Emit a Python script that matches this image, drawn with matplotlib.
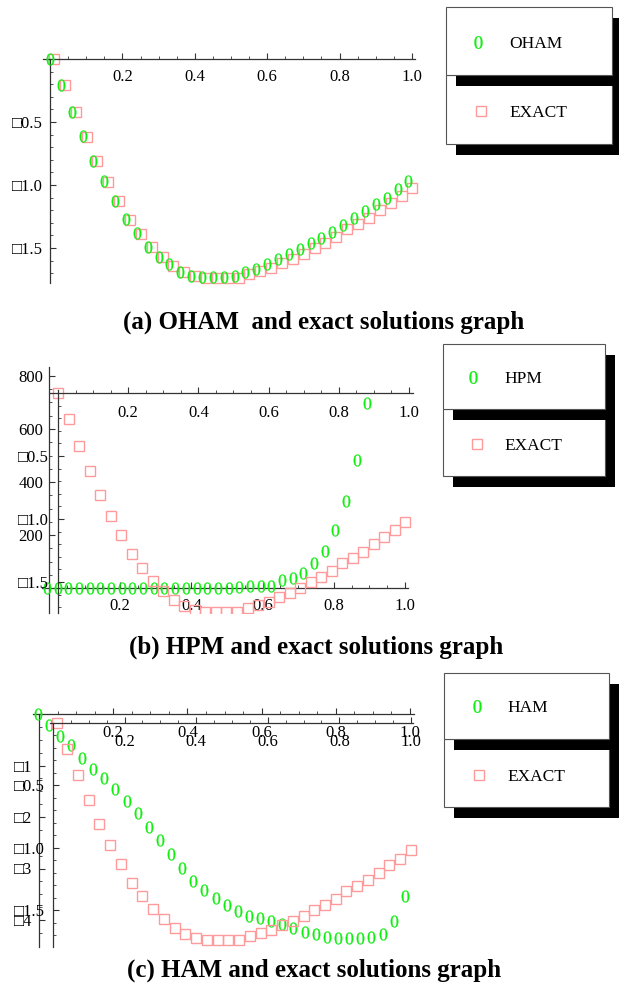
import numpy as np
import matplotlib
matplotlib.use('Agg')
import matplotlib.pyplot as plt
from matplotlib.patches import Rectangle
from matplotlib.transforms import ScaledTranslation

plt.rcParams['font.family'] = ['Liberation Serif', 'DejaVu Serif']
plt.rcParams['mathtext.fontset'] = 'custom'
plt.rcParams['mathtext.rm'] = 'Liberation Serif'
plt.rcParams['mathtext.it'] = 'Liberation Serif'

# ---------------- data ----------------
x_nodes = [0.00, 0.03, 0.06, 0.09, 0.12, 0.15, 0.18, 0.21, 0.24, 0.27,
           0.30, 0.33, 0.36, 0.39, 0.42, 0.45, 0.48, 0.51, 0.54, 0.57,
           0.60, 0.63, 0.66, 0.69, 0.72, 0.75, 0.78, 0.81, 0.84, 0.87,
           0.90, 0.93, 0.96, 0.99]
exact = [0.00, -0.21, -0.42, -0.62, -0.81, -0.98, -1.13, -1.28, -1.39, -1.49,
         -1.57, -1.64, -1.69, -1.72, -1.74, -1.74, -1.74, -1.74, -1.71, -1.68,
         -1.66, -1.62, -1.59, -1.55, -1.50, -1.46, -1.41, -1.35, -1.31, -1.26,
         -1.20, -1.14, -1.09, -1.02]
oham = [0.00, -0.21, -0.42, -0.61, -0.81, -0.97, -1.13, -1.27, -1.38, -1.49,
        -1.57, -1.63, -1.69, -1.72, -1.73, -1.73, -1.73, -1.72, -1.69, -1.67,
        -1.63, -1.59, -1.55, -1.51, -1.46, -1.42, -1.37, -1.32, -1.26, -1.21,
        -1.15, -1.10, -1.03, -0.97]
x_hpm = [0.00, 0.03, 0.06, 0.09, 0.12, 0.15, 0.18, 0.21, 0.24, 0.27,
         0.30, 0.33, 0.36, 0.39, 0.42, 0.45, 0.48, 0.51, 0.54, 0.57,
         0.60, 0.63, 0.66, 0.69, 0.72, 0.75, 0.78, 0.81, 0.84, 0.87, 0.90]
hpm = [0, 0, 0, 0, 0, 0, 0, 0, 0, 0,
       0, 0, 0, 0, 0, 0, 0, 0, 4, 6,
       6, 9, 29, 38, 57, 94, 138, 218, 330, 482, 698]
ham = [0.00, -0.21, -0.42, -0.61, -0.85, -1.06, -1.25, -1.46, -1.68, -1.92,
       -2.19, -2.45, -2.72, -2.99, -3.24, -3.41, -3.57, -3.71, -3.82, -3.92,
       -3.97, -4.02, -4.08, -4.15, -4.23, -4.28, -4.33, -4.35, -4.35, -4.35,
       -4.33, -4.28, -4.02, -3.54]

x_ticks = [0.2, 0.4, 0.6, 0.8, 1.0]
x_tick_labels = ['0.2', '0.4', '0.6', '0.8', '1.0']
exact_yticks = [-0.5, -1.0, -1.5]
exact_ylabels = ['\u25a10.5', '\u25a11.0', '\u25a11.5']
hpm_yticks = [200, 400, 600, 800]
hpm_ylabels = ['200', '400', '600', '800']
ham_yticks = [-1, -2, -3, -4]
ham_ylabels = ['\u25a11', '\u25a12', '\u25a13', '\u25a14']
method_names = ['OHAM', 'HPM', 'HAM']
exact_name = 'EXACT'
captions = ['(a) OHAM  and exact solutions graph',
            '(b) HPM and exact solutions graph',
            '(c) HAM and exact solutions graph']

# ---------------- style ----------------
W, H = 619, 991
GREEN = '#10ee10'
PINK = '#ff9a9a'
AXC = '#333333'
BOXC = '#555555'
ZERO_MS = 8.6
SQ_MS = 7.2

fig = plt.figure(figsize=(W / 100, H / 100), dpi=100)


def px_axes(x0, y0, x1, y1, xorig, xscale, yorig, yscale):
    ax = fig.add_axes([x0 / W, 1 - y1 / H, (x1 - x0) / W, (y1 - y0) / H])
    ax.set_xlim((x0 - xorig) / xscale, (x1 - xorig) / xscale)
    ax.set_ylim((yorig - y1) / yscale, (yorig - y0) / yscale)
    ax.patch.set_alpha(0)
    for s in ('top', 'right'):
        ax.spines[s].set_visible(False)
    for s in ('left', 'bottom'):
        ax.spines[s].set_position(('data', 0))
        ax.spines[s].set_color(AXC)
        ax.spines[s].set_linewidth(0.9)
    ax.xaxis.set_ticks_position('bottom')
    ax.yaxis.set_ticks_position('left')
    ax.tick_params(which='major', direction='in', length=4.0, width=0.8,
                   color=AXC, labelsize=12, labelcolor='black')
    ax.tick_params(which='minor', direction='in', length=2.3, width=0.6,
                   color=AXC)
    return ax


def set_ticks(ax, xmaj, xlab, xminor, ymaj, ylab, yminor, xpad, ypad):
    ax.set_xticks(xmaj, labels=xlab)
    ax.set_xticks(xminor, minor=True)
    ax.set_yticks(ymaj, labels=ylab)
    ax.set_yticks(yminor, minor=True)
    ax.tick_params(axis='x', which='major', pad=xpad)
    ax.tick_params(axis='y', which='major', pad=ypad)


x_minor = [v for v in np.round(np.arange(0.05, 1.001, 0.05), 2) if round(v * 5, 6) % 1 != 0]


def shift(ax, dx_px):
    return ax.transData + ScaledTranslation(dx_px / 100, 0, fig.dpi_scale_trans)


def zeros(ax, xs, ys, dx=0):
    ax.plot(xs, ys, linestyle='none', marker='$0$', markersize=ZERO_MS,
            markerfacecolor=GREEN, markeredgecolor=GREEN, markeredgewidth=0.2,
            clip_on=False, transform=shift(ax, dx), zorder=3)


def squares(ax, xs, ys, dx=0, clip=False):
    ax.plot(xs, ys, linestyle='none', marker='s', markersize=SQ_MS,
            markerfacecolor='none', markeredgecolor=PINK, markeredgewidth=1.0,
            clip_on=clip, transform=shift(ax, dx), zorder=2)


# ---------------- panel (a) ----------------
axa = px_axes(43, 59, 415, 283, 50, 362, 59, 126)
set_ticks(axa, x_ticks, x_tick_labels, x_minor,
          exact_yticks, exact_ylabels,
          [v for v in np.round(np.arange(-0.1, -1.75, -0.1), 2) if abs(v * 2 - round(v * 2)) > 1e-6],
          7, 5)
squares(axa, x_nodes, exact, dx=4)
zeros(axa, x_nodes, oham)

# ---------------- panel (b) ----------------
axb1 = px_axes(42, 367, 408, 613, 49, 356, 588, 53 / 200)
set_ticks(axb1, x_ticks, x_tick_labels, x_minor,
          hpm_yticks, hpm_ylabels,
          [v for v in range(50, 800, 50) if v % 200 != 0], 7, 4.3)
zeros(axb1, x_hpm, hpm, dx=-2)

axb2 = px_axes(50, 380, 413, 613, 58, 351, 393, 126)
set_ticks(axb2, x_ticks, x_tick_labels, x_minor,
          exact_yticks, exact_ylabels,
          [v for v in np.round(np.arange(-0.1, -1.75, -0.1), 2) if abs(v * 2 - round(v * 2)) > 1e-6],
          8.5, 6.5)
axb2.spines['left'].set_bounds((393 - 390) / 126, axb2.get_ylim()[0])
squares(axb2, x_nodes, exact, clip=True)

# ---------------- panel (c) ----------------
axc1 = px_axes(33, 714, 414, 947, 39, 371, 714, 51.5)
set_ticks(axc1, x_ticks, x_tick_labels, x_minor,
          ham_yticks, ham_ylabels,
          [v for v in np.round(np.arange(-0.25, -4.5, -0.25), 2) if v != round(v)], 8, 5)
zeros(axc1, x_nodes, ham, dx=-1.5)

axc2 = px_axes(50, 712, 413, 947, 53, 358, 722.5, 125)
set_ticks(axc2, x_ticks, x_tick_labels, x_minor,
          exact_yticks, exact_ylabels,
          [v for v in np.round(np.arange(-0.1, -1.8, -0.1), 2) if abs(v * 2 - round(v * 2)) > 1e-6],
          8, 6)
axc2.spines['left'].set_bounds(0, axc2.get_ylim()[0])
squares(axc2, x_nodes, exact, dx=3.5)

# ---------------- legends & captions (pixel overlay) ----------------
ov = fig.add_axes([0, 0, 1, 1])
ov.set_xlim(0, W)
ov.set_ylim(H, 0)
ov.axis('off')
ov.patch.set_alpha(0)


def legend(name, bx0, bx1, by0, by1, by2, zx, zy, sx, sy, tx, tb1, tb2):
    w = bx1 - bx0
    ov.add_patch(Rectangle((bx0 + 10, by1 + 11), w, by2 - by1, fc='black', ec='none'))
    ov.add_patch(Rectangle((bx0, by1), w, by2 - by1, fc='white', ec=BOXC, lw=0.8))
    ov.add_patch(Rectangle((bx0 + 10, by0 + 11), w, by1 - by0, fc='black', ec='none'))
    ov.add_patch(Rectangle((bx0, by0), w, by1 - by0, fc='white', ec=BOXC, lw=0.8))
    ov.plot([zx], [zy], linestyle='none', marker='$0$', markersize=ZERO_MS + 0.6,
            markerfacecolor=GREEN, markeredgecolor=GREEN, markeredgewidth=0.2)
    ov.plot([sx], [sy], linestyle='none', marker='s', markersize=SQ_MS,
            markerfacecolor='none', markeredgecolor=PINK, markeredgewidth=1.0)
    ov.text(tx, tb1, name, ha='left', va='baseline', fontsize=12.5)
    ov.text(tx, tb2, exact_name, ha='left', va='baseline', fontsize=12.5)


legend(method_names[0], 446, 612, 7, 75, 144, 478, 41.7, 480.7, 111, 509, 48, 117)
legend(method_names[1], 443, 605, 344, 409, 476, 473.3, 376.7, 476.7, 444, 504, 383, 450)
legend(method_names[2], 444, 609, 673, 739, 807, 476.7, 706, 479.3, 775, 507.3, 712, 781)

for cap, cx, cy in zip(captions, [324, 316, 314], [329, 654, 977]):
    ov.text(cx, cy, cap, ha='center', va='baseline', fontsize=18, fontweight='bold')

fig.savefig('out.png', dpi=100)
